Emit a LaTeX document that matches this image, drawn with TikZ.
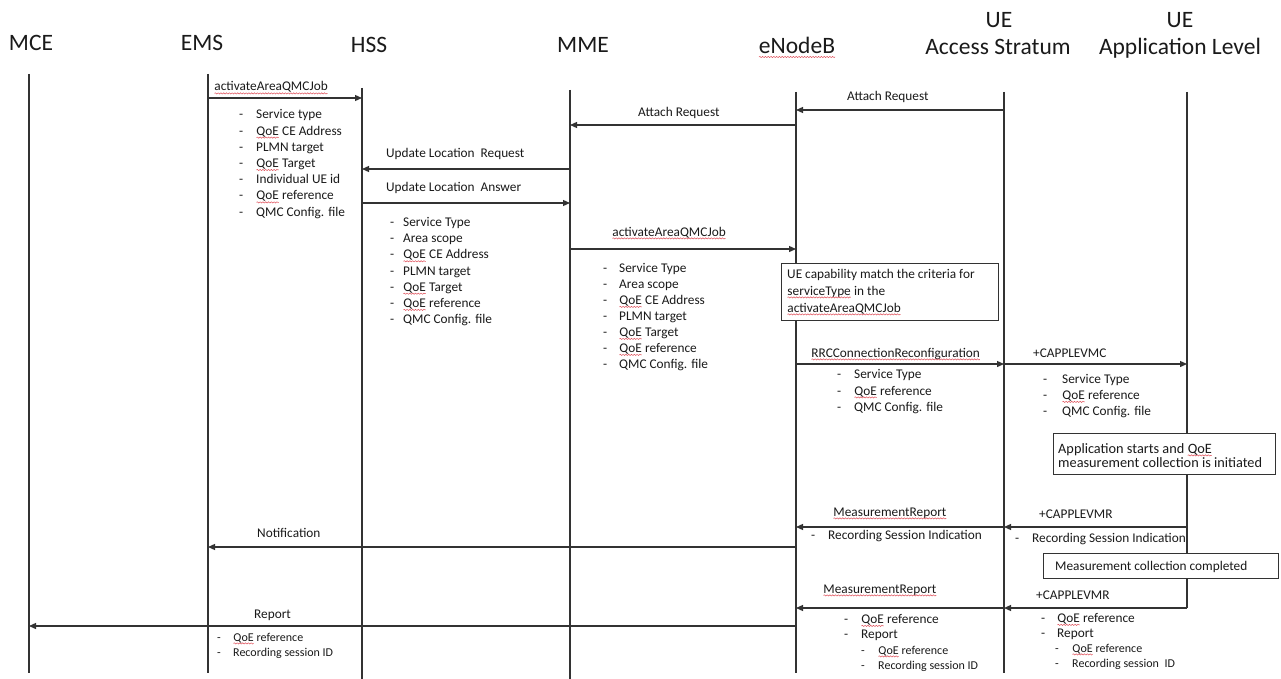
\documentclass[tikz,border=0pt]{standalone}
\usepackage{fontspec}
\setmainfont{Carlito}
\usetikzlibrary{arrows.meta,decorations.pathmorphing}
\definecolor{ln}{HTML}{333333}
\definecolor{tx}{HTML}{1A1A1A}
\definecolor{sq}{HTML}{E0505A}
\newcommand\wv[2][2.4pt]{\tikz[baseline=(wvq.base)]{\node[inner sep=0pt,outer sep=0pt,anchor=base,draw=none,fill=none] (wvq) at (0,0) {#2};\draw[sq,line width=0.5pt,decorate,decoration={snake,amplitude=0.6pt,segment length=2.8pt}] ([yshift=-#1]wvq.base west) -- ([yshift=-#1]wvq.base east);}}
\newcommand\blist[7]{\foreach \t [count=\i] in {#7}{\node[#1] (#2d\i) at (#3,{#5+#6*(\i-1)}) {-};\node[#1] (#2t\i) at (#4,{#5+#6*(\i-1)}) {\t};}}
\newcommand\msg[3]{\draw[msgarrow] (#1T |- 0,#3) -- (#2T |- 0,#3);}
\begin{document}
\begin{tikzpicture}[x=1pt,y=-1pt,
  hd/.style={font=\fontsize{23.5}{27}\selectfont,text=tx,inner sep=0pt,anchor=base},
  lb/.style={font=\fontsize{13.3}{16}\selectfont,text=tx,inner sep=0pt,anchor=base west},
  sm/.style={font=\fontsize{12}{14}\selectfont,text=tx,inner sep=0pt,anchor=base west},
  bx/.style={draw=ln,line width=1.1pt,fill=white,inner sep=0pt,anchor=north west},
  life/.style={draw=ln,line width=1.35pt},
  msgarrow/.style={draw=ln,line width=1.25pt,-{Triangle[length=7pt,width=6pt]}}]
\useasboundingbox[fill=white] (0,0) rectangle (1281,679);
% headers
\node[hd] (mce) at (31,51) {MCE};
\node[hd] (ems) at (202,51) {EMS};
\node[hd] (hss) at (369,53) {HSS};
\node[hd] (mme) at (583,53) {MME};
\node[hd] (enb) at (797,54) {\wv[3pt]{eNodeB}};
\node[hd] (uasu) at (999,28) {UE};
\node[hd] (uas) at (998,55) {Access Stratum};
\node[hd] (uapu) at (1180,28) {UE};
\node[hd] (uap) at (1180,55) {Application Level};
% lifelines
\coordinate (mceT) at (29,74);   \coordinate (mceB) at (29,673);
\coordinate (emsT) at (208,74);  \coordinate (emsB) at (208,673);
\coordinate (hssT) at (362,88);  \coordinate (hssB) at (362,679);
\coordinate (mmeT) at (570,90);  \coordinate (mmeB) at (570,679);
\coordinate (enbT) at (796,92);  \coordinate (enbB) at (796,673);
\coordinate (uasT) at (1004,92); \coordinate (uasB) at (1004,673);
\coordinate (uapT) at (1187,92); \coordinate (uapB) at (1187,608);
\foreach \l in {mce,ems,hss,mme,enb,uas,uap}{\draw[life] (\l T) -- (\l B);}
% boxes
\node[bx,minimum width=217pt,minimum height=57pt] (capbox) at (781,263) {};
\node[bx,minimum width=222pt,minimum height=41pt] (appbox) at (1053,433) {};
\node[bx,minimum width=235pt,minimum height=25pt] (mcbox) at (1043,553) {};
\node[lb] (cap1) at (787,278) {UE capability match the criteria for};
\node[lb] (cap2) at (787,295) {\wv{serviceType} in the};
\node[lb] (cap3) at (787,312) {\wv{activateAreaQMCJob}};
\node[lb,font=\fontsize{14.3}{15}\selectfont] (app1) at (1058,453) {Application starts and \wv{QoE}};
\node[lb,font=\fontsize{14.3}{15}\selectfont] (app2) at (1058,467) {measurement collection is initiated};
\node[lb] (mct) at (1055,570.5) {Measurement collection completed};
% messages
\msg{ems}{hss}{98}
\msg{uas}{enb}{110}
\msg{enb}{mme}{125}
\msg{mme}{hss}{169}
\msg{hss}{mme}{203}
\msg{mme}{enb}{249}
\msg{enb}{uas}{364}
\msg{uas}{uap}{364}
\msg{uas}{enb}{527}
\msg{uap}{uas}{527}
\msg{enb}{ems}{547}
\msg{uas}{enb}{608}
\msg{uap}{uas}{608}
\msg{enb}{mce}{626}
% message labels
\node[lb] (m1) at (214,91) {\wv{activateAreaQMCJob}};
\node[lb] (m2) at (847,101) {Attach Request};
\node[lb] (m3) at (638,117) {Attach Request};
\node[lb] (m4) at (386,158) {Update Location\hspace{3pt} Request};
\node[lb] (m5) at (386,192) {Update Location\hspace{3pt} Answer};
\node[lb] (m6) at (612,236) {\wv{activateAreaQMCJob}};
\node[lb] (m7) at (811,357) {\wv{RRCConnectionReconfiguration}};
\node[lb] (m8) at (1033,357) {+CAPPLEVMC};
\node[lb] (m9) at (833,516) {\wv{MeasurementReport}};
\node[lb] (m10) at (1039,518) {+CAPPLEVMR};
\node[lb] (m11) at (257,537) {Notification};
\node[lb] (m12) at (823,593) {\wv{MeasurementReport}};
\node[lb] (m13) at (1036,599) {+CAPPLEVMR};
\node[lb] (m14) at (254,618) {Report};
% parameter lists
\blist{lb}{emsA}{239}{256}{119}{16.2}{Service type,\wv{QoE} CE Address,PLMN target,\wv{QoE} Target,Individual UE id,\wv{QoE} reference,QMC Config. file}
\blist{lb}{hssA}{390}{403}{226.5}{16.2}{Service Type,Area scope,\wv{QoE} CE Address,PLMN target,\wv{QoE} Target,\wv{QoE} reference,QMC Config. file}
\blist{lb}{mmeA}{603}{619}{272.5}{16}{Service Type,Area scope,\wv{QoE} CE Address,PLMN target,\wv{QoE} Target,\wv{QoE} reference,QMC Config. file}
\blist{lb}{rrcA}{837}{854}{378.5}{16.5}{Service Type,\wv{QoE} reference,QMC Config. file}
\blist{lb}{capA}{1043}{1062}{383.5}{16}{Service Type,\wv{QoE} reference,QMC Config. file}
\blist{lb}{mrA}{811}{828}{539.5}{0}{Recording Session Indication}
\blist{lb}{crA}{1015}{1032}{542.5}{0}{Recording Session Indication}
\blist{lb}{mrB}{844}{861}{623.5}{15}{\wv{QoE} reference,Report}
\blist{sm}{mrC}{861}{878}{654}{15}{\wv{QoE} reference,Recording session ID}
\blist{lb}{crB}{1041}{1057}{622.5}{15}{\wv{QoE} reference,Report}
\blist{sm}{crC}{1055}{1072}{652}{15}{\wv{QoE} reference,Recording session\hspace{3pt} ID}
\blist{sm}{rpA}{217}{233}{641}{15}{\wv{QoE} reference,Recording session ID}
\end{tikzpicture}
\end{document}
